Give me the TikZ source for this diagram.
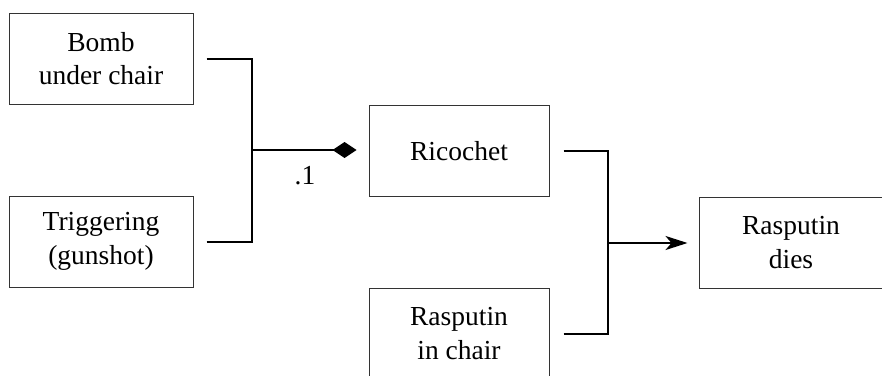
\documentclass[tikz,border=0pt]{standalone}
\usepackage{fontspec}
\setmainfont{Liberation Serif}
\usetikzlibrary{arrows.meta}

\tikzset{
    event/.style={shape=rectangle,draw=black!80,line width=1pt,minimum width=184pt,minimum height=91pt,align=center,inner sep=0pt},
    link/.style={draw=black,line width=2pt}
}

\begin{document}
\begin{tikzpicture}[x=1pt,y=-1pt,font=\fontsize{27.5}{33.5}\selectfont]
        \clip (0,0) rectangle (882,375);

        \node[event] (bomb) at (101,58.5) {Bomb\\under chair};
        \node[event] (trig) at (101,241.5) {Triggering\\(gunshot)};
        \node[event,minimum width=180pt] (rico) at (459,151) {Ricochet};
        \node[event,minimum width=180pt] (chair) at (459,333.5) {Rasputin\\in chair};
        \node[event] (dies) at (791,242.5) {Rasputin\\dies};

        \coordinate (j1) at (252,150);
        \coordinate (j2) at (608,243);

        \path [link] ([xshift=13pt]bomb.east) -| (j1);
        \path [link] ([xshift=13pt]trig.east) -| (j1);
        \path [link,-{Diamond[length=24pt,width=16pt]}] (j1) -- ([xshift=-12pt]rico.west |- j1);
        \node[draw=none] (p) at (305,176) {.1};

        \path [link] ([xshift=14pt]rico.east) -| (j2);
        \path [link] ([xshift=14pt]chair.east) -| (j2);
        \path [link,-{Stealth[length=22pt,width=14pt,inset=6pt]}] (j2) -- ([xshift=-11pt]dies.west |- j2);
    \end{tikzpicture}
\end{document}
